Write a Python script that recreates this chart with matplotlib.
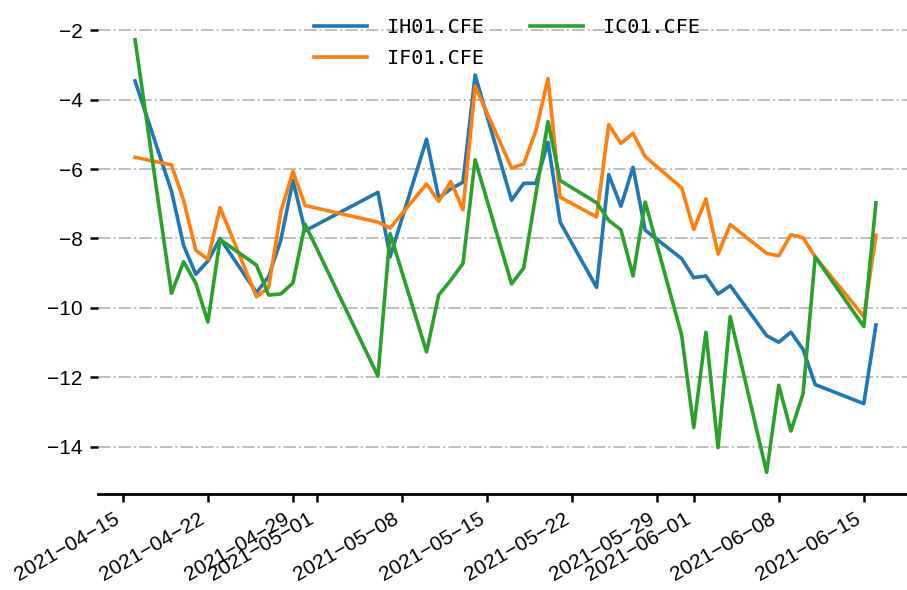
import matplotlib
matplotlib.use("Agg")
import matplotlib.pyplot as plt
import matplotlib.dates as mdates
import matplotlib.ticker as mticker
import pandas as pd

plt.rcParams['font.family'] = ['Liberation Sans', 'DejaVu Sans']
plt.rcParams['axes.unicode_minus'] = True

dates = ["2021-04-16", "2021-04-19", "2021-04-20", "2021-04-21", "2021-04-22", "2021-04-23",
         "2021-04-26", "2021-04-27", "2021-04-28", "2021-04-29", "2021-04-30",
         "2021-05-06", "2021-05-07", "2021-05-10", "2021-05-11", "2021-05-12", "2021-05-13",
         "2021-05-14", "2021-05-17", "2021-05-18", "2021-05-19", "2021-05-20", "2021-05-21",
         "2021-05-24", "2021-05-25", "2021-05-26", "2021-05-27", "2021-05-28", "2021-05-31",
         "2021-06-01", "2021-06-02", "2021-06-03", "2021-06-04", "2021-06-07", "2021-06-08",
         "2021-06-09", "2021-06-10", "2021-06-11", "2021-06-15", "2021-06-16"]

ih = [-3.46, -6.64, -8.20, -9.03, -8.65, -8.00, -9.56, -9.10, -8.05, -6.33, -7.78,
      -6.67, -8.53, -5.14, -6.83, -6.57, -6.38, -3.29, -6.90, -6.41, -6.41, -5.23, -7.53,
      -9.41, -6.16, -7.07, -5.95, -7.76, -8.58, -9.13, -9.08, -9.60, -9.36, -10.80, -10.99,
      -10.70, -11.20, -12.21, -12.76, -10.49]

if_ = [-5.66, -5.88, -6.90, -8.34, -8.60, -7.11, -9.68, -9.41, -7.24, -6.06, -7.05,
       -7.53, -7.70, -6.43, -6.93, -6.36, -7.17, -3.61, -5.97, -5.85, -4.90, -3.39, -6.81,
       -7.38, -4.72, -5.26, -4.97, -5.64, -6.54, -7.74, -6.86, -8.45, -7.60, -8.43, -8.50,
       -7.89, -7.98, -8.53, -10.25, -7.91]

ic = [-2.27, -9.58, -8.67, -9.29, -10.41, -8.03, -8.77, -9.63, -9.60, -9.28, -7.59,
      -11.97, -7.86, -11.27, -9.63, -9.20, -8.72, -5.73, -9.31, -8.85, -6.73, -4.63, -6.33,
      -6.97, -7.48, -7.75, -9.08, -6.95, -10.78, -13.45, -10.70, -14.03, -10.25, -14.74, -12.23,
      -13.55, -12.47, -8.53, -10.54, -6.97]

x = pd.to_datetime(dates)

fig = plt.figure(figsize=(9.07, 5.90), dpi=100)
ax = fig.add_axes([98 / 907, 96 / 590, 815 / 907, 476 / 590])

ax.plot(x, ih, color='#1f77b4', lw=2.6, label='IH01.CFE')
ax.plot(x, if_, color='#ff7f0e', lw=2.6, label='IF01.CFE')
ax.plot(x, ic, color='#2ca02c', lw=2.6, label='IC01.CFE')

# old-style day ticks: 1, 8, 15, 22, 29
ax.xaxis.set_major_locator(mdates.DayLocator(bymonthday=[1, 8, 15, 22, 29]))
ax.xaxis.set_major_formatter(mticker.FuncFormatter(
    lambda v, pos: mdates.num2date(v).strftime('%Y-%m-%d').replace('-', '\u2212')))

ax.grid(axis='y', linestyle='-.', color='#bdbdbd', lw=1.4)
ax.spines['top'].set_visible(False)
ax.spines['right'].set_visible(False)
ax.spines['left'].set_visible(False)
ax.spines['bottom'].set_linewidth(2)
ax.tick_params(labelsize=15, width=1.8, length=6, pad=5)
ax.tick_params(axis='x', labelrotation=30)

fig.canvas.draw()
for t in ax.xaxis.get_major_ticks():
    t.label1.set_ha('right')

ax.legend(loc='upper center', ncol=2, frameon=False,
          prop={'family': 'DejaVu Sans Mono', 'size': 14.5},
          bbox_to_anchor=(0.502, 1.039), handlelength=2.6, handletextpad=1.0,
          columnspacing=2.3, labelspacing=0.6)

fig.savefig('out.png', dpi=100)
